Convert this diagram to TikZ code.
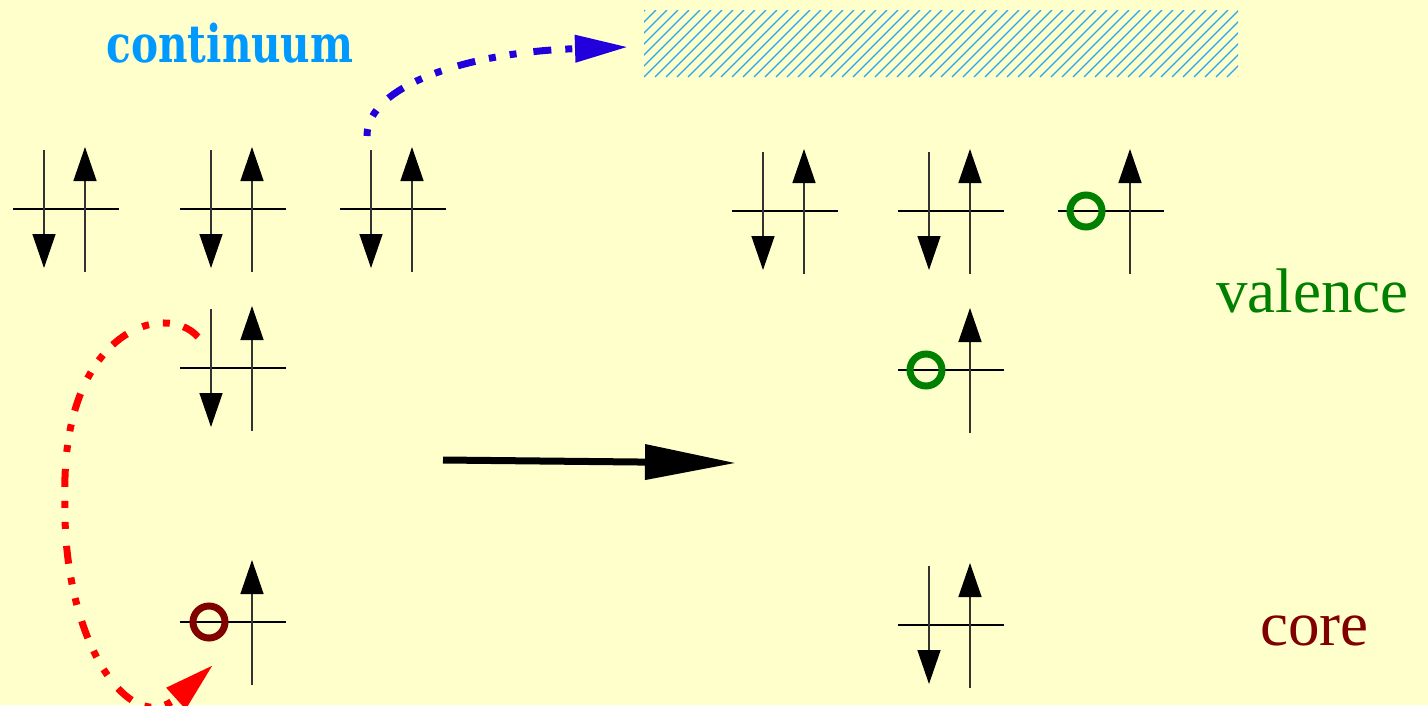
\documentclass[tikz,border=0pt]{standalone}
\usepackage{fontspec}
\setmainfont{Liberation Serif}
\newfontfamily\contfont[FakeStretch=0.78]{DejaVu Serif}
\usetikzlibrary{arrows.meta}
\definecolor{bgy}{RGB}{255,255,204}
\definecolor{contblue}{RGB}{0,153,255}
\definecolor{hatchblue}{RGB}{40,165,235}
\definecolor{arrblue}{RGB}{34,0,221}
\definecolor{valgreen}{RGB}{0,128,0}
\definecolor{coreRed}{RGB}{128,0,0}
\tikzset{
  hl/.style={line width=1.3pt, black},
  spin/.style={line width=1.4pt, black!80, -{Triangle[length=34pt,width=23pt,black]}},
  holeV/.style={draw=valgreen, line width=7pt},
  holeC/.style={draw=coreRed, line width=7pt},
  dotdash/.style={line width=7pt, dash pattern=on 18pt off 14pt on 7pt off 14pt on 7pt off 17pt},
  dotdashB/.style={line width=7pt, dash pattern=on 7pt off 14pt on 7pt off 17pt on 18pt off 14pt},
  hatch/.style={line width=1.2pt, hatchblue},
  pics/pair/.style={code={
    \draw[hl] (-53,0) -- (53,0);
    \draw[spin] (-22,-59) -- (-22,59);
    \draw[spin] (19,63) -- (19,-62);
  }},
  pics/holeval/.style={code={
    \draw[hl] (-53,0) -- (53,0);
    \draw[spin] (19,63) -- (19,-62);
    \draw[holeV] (-25,0) circle (16);
  }},
  pics/holecore/.style={code={
    \draw[hl] (-53,0) -- (53,0);
    \draw[spin] (19,63) -- (19,-62);
    \draw[holeC] (-24,0) circle (16);
  }},
}
\begin{document}
\begin{tikzpicture}[x=1pt,y=-1pt]
\fill[bgy] (0,0) rectangle (1428,705);
\useasboundingbox (0,0) rectangle (1428,705);

% hatched continuum band
\begin{scope}
  \clip (644,10) rectangle (1238,77);
  \foreach \i in {-7,...,54} \draw[hatch] (644+11*\i,77) -- ++(67,-67);
\end{scope}

% labels
\node[anchor=base, inner sep=0, text=contblue] (cont) at (230,62) {\fontsize{52}{60}\selectfont\contfont\bfseries continuum};
\node[anchor=base west, inner sep=0, text=valgreen] (val) at (1216,312) {\fontsize{63}{70}\selectfont valence};
\node[anchor=base west, inner sep=0, text=coreRed] (core) at (1260,645) {\fontsize{63}{70}\selectfont core};

% left configuration
\pic at (66,209) {pair};
\pic at (233,209) {pair};
\pic at (393,209) {pair};
\pic at (233,368) {pair};
\pic at (233,622) {holecore};

% right configuration
\pic at (785,211) {pair};
\pic at (951,211) {pair};
\pic at (1111,211) {holeval};
\pic at (951,370) {holeval};
\pic at (951,625) {pair};

% transition arrow
\coordinate (ts) at (443,460);
\coordinate (te) at (736,463);
\draw[line width=7pt, -{Triangle[length=91pt,width=34pt]}] (ts) -- (te);

% Auger electron to continuum
\coordinate (b0) at (367,136);
\coordinate (b1) at (628,47);
\draw[arrblue, dotdashB, -{Triangle[length=53pt,width=26pt]}] (b0) .. controls (367,85) and (470,52) .. (b1);

% valence electron fills core hole
\coordinate (r0) at (198,337);
\coordinate (rm) at (65,500);
\coordinate (r1) at (213,665);
\draw[red, dotdash, -{Triangle[length=50pt,width=27pt]}] (r0) .. controls (165,300) and (60,330) .. (rm) .. controls (62,640) and (130,740) .. (r1);
\end{tikzpicture}
\end{document}
